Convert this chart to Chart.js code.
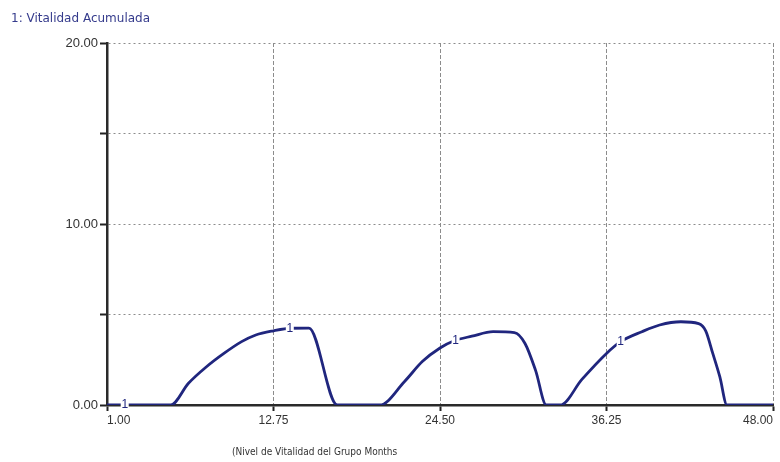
<!DOCTYPE html>
<html>
<head>
<meta charset="utf-8">
<script src="https://cdn.jsdelivr.net/npm/chart.js@4/dist/chart.umd.min.js"></script>
<style>
  html, body { margin: 0; padding: 0; background: #fff; }
  #wrap { width: 780px; height: 462px; }
</style>
</head>
<body>
<div id="wrap"><canvas id="myChart" width="780" height="462"></canvas></div>
<script>
// values
const months = [1, 5.5, 6.75, 8, 9.25, 10.5, 11.5, 12.75, 14, 15.25,
  17.25, 20.25, 22, 23.25, 24.5, 25.5, 26.75, 28.25, 29.75, 30.5,
  31.25, 32, 33, 34.5, 36.25, 37.25, 38.75, 40, 41.5, 42.75,
  43.25, 43.75, 44.25, 44.75, 48];
const vitalidad = [0, 0, 1.2, 2.1, 2.85, 3.5, 3.87, 4.1, 4.24, 4.25,
  0, 0, 1.3, 2.4, 3.15, 3.55, 3.8, 4.05, 4.0, 3.4,
  1.9, 0, 0, 1.4, 2.85, 3.5, 4.05, 4.42, 4.6, 4.5,
  4.1, 2.85, 1.55, 0, 0];
const xTicks = [1, 12.75, 24.5, 36.25, 48];
const yTicks = [0, 5, 10, 15, 20];
const markerMonths = [2.25, 13.9, 25.6, 37.25];

const lineColor = '#20267e';
const titleText = '1: Vitalidad Acumulada';
const axisText = '(Nivel de Vitalidad del Grupo Months';

// value of the line at month m (for placing the "1" markers)
function valueAt(m) {
  for (var i = 1; i < months.length; i++) {
    if (m <= months[i]) {
      var t = (m - months[i - 1]) / (months[i] - months[i - 1]);
      return vitalidad[i - 1] + t * (vitalidad[i] - vitalidad[i - 1]);
    }
  }
  return vitalidad[vitalidad.length - 1];
}

const stellaText = {
  id: 'stellaText',
  afterDatasetsDraw(chart) {
    const ctx = chart.ctx, xs = chart.scales.x, ys = chart.scales.y;
    ctx.save();
    ctx.font = '12px "Liberation Sans", Arial, sans-serif';
    ctx.textAlign = 'center';
    ctx.textBaseline = 'middle';
    markerMonths.forEach(function (m) {
      var px = xs.getPixelForValue(m);
      var py = ys.getPixelForValue(valueAt(m));
      ctx.fillStyle = '#fff';
      ctx.fillRect(px - 4, py - 6, 8, 12);
      ctx.fillStyle = lineColor;
      ctx.fillText('1', px, py);
    });
    ctx.restore();
  },
  afterDraw(chart) {
    const ctx = chart.ctx;
    ctx.save();
    ctx.textBaseline = 'alphabetic';
    ctx.textAlign = 'left';
    ctx.fillStyle = '#353b8c';
    ctx.font = '12px "DejaVu Sans", sans-serif';
    ctx.fillText(titleText, 11, 22);
    ctx.fillStyle = '#333';
    ctx.font = '10px "DejaVu Sans Condensed", "Liberation Sans Narrow", sans-serif';
    ctx.fillText(axisText, 232, 455);
    ctx.restore();
  }
};

const config = {
  type: 'line',
  data: {
    datasets: [{
      label: titleText,
      data: months.map(function (m, i) { return { x: m, y: vitalidad[i] }; }),
      borderColor: lineColor,
      backgroundColor: lineColor,
      borderWidth: 2.8,
      pointRadius: 0,
      pointHoverRadius: 0,
      cubicInterpolationMode: 'monotone'
    }]
  },
  options: {
    responsive: false,
    animation: false,
    layout: { padding: { top: 43, right: 7, left: 0, bottom: 0 } },
    plugins: {
      legend: { display: false },
      tooltip: { enabled: false }
    },
    scales: {
      x: {
        type: 'linear',
        min: 1,
        max: 48,
        afterBuildTicks: function (scale) {
          scale.ticks = xTicks.map(function (v) { return { value: v }; });
        },
        afterFit: function (scale) {
          scale.height = 57;
          scale.paddingLeft = 0;
          scale.paddingRight = 0;
        },
        ticks: {
          autoSkip: false,
          maxRotation: 0,
          align: 'inner',
          padding: 2,
          color: '#333',
          font: { family: '"Liberation Sans", Arial, sans-serif', size: 12 },
          callback: function (v) { return Number(v).toFixed(2); }
        },
        grid: {
          color: '#8c8c8c',
          lineWidth: 1,
          tickLength: 6,
          tickColor: '#222',
          tickWidth: 2,
          tickBorderDash: []
        },
        border: { display: true, color: '#2a2a2a', width: 2.5, dash: [4, 2] }
      },
      y: {
        min: 0,
        max: 20,
        afterBuildTicks: function (scale) {
          scale.ticks = yTicks.map(function (v) { return { value: v }; });
        },
        afterFit: function (scale) {
          scale.width = 107;
        },
        ticks: {
          padding: 2,
          color: '#333',
          font: { family: '"Liberation Sans", Arial, sans-serif', size: 13 },
          callback: function (v) { return v % 10 === 0 ? Number(v).toFixed(2) : ''; }
        },
        grid: {
          color: '#8c8c8c',
          lineWidth: 1,
          tickLength: 7,
          tickColor: '#222',
          tickWidth: 2,
          tickBorderDash: []
        },
        border: { display: true, color: '#2a2a2a', width: 2.5, dash: [2, 3] }
      }
    }
  },
  plugins: [stellaText]
};

var myChart = new Chart(document.getElementById('myChart'), config);
</script>
</body>
</html>
